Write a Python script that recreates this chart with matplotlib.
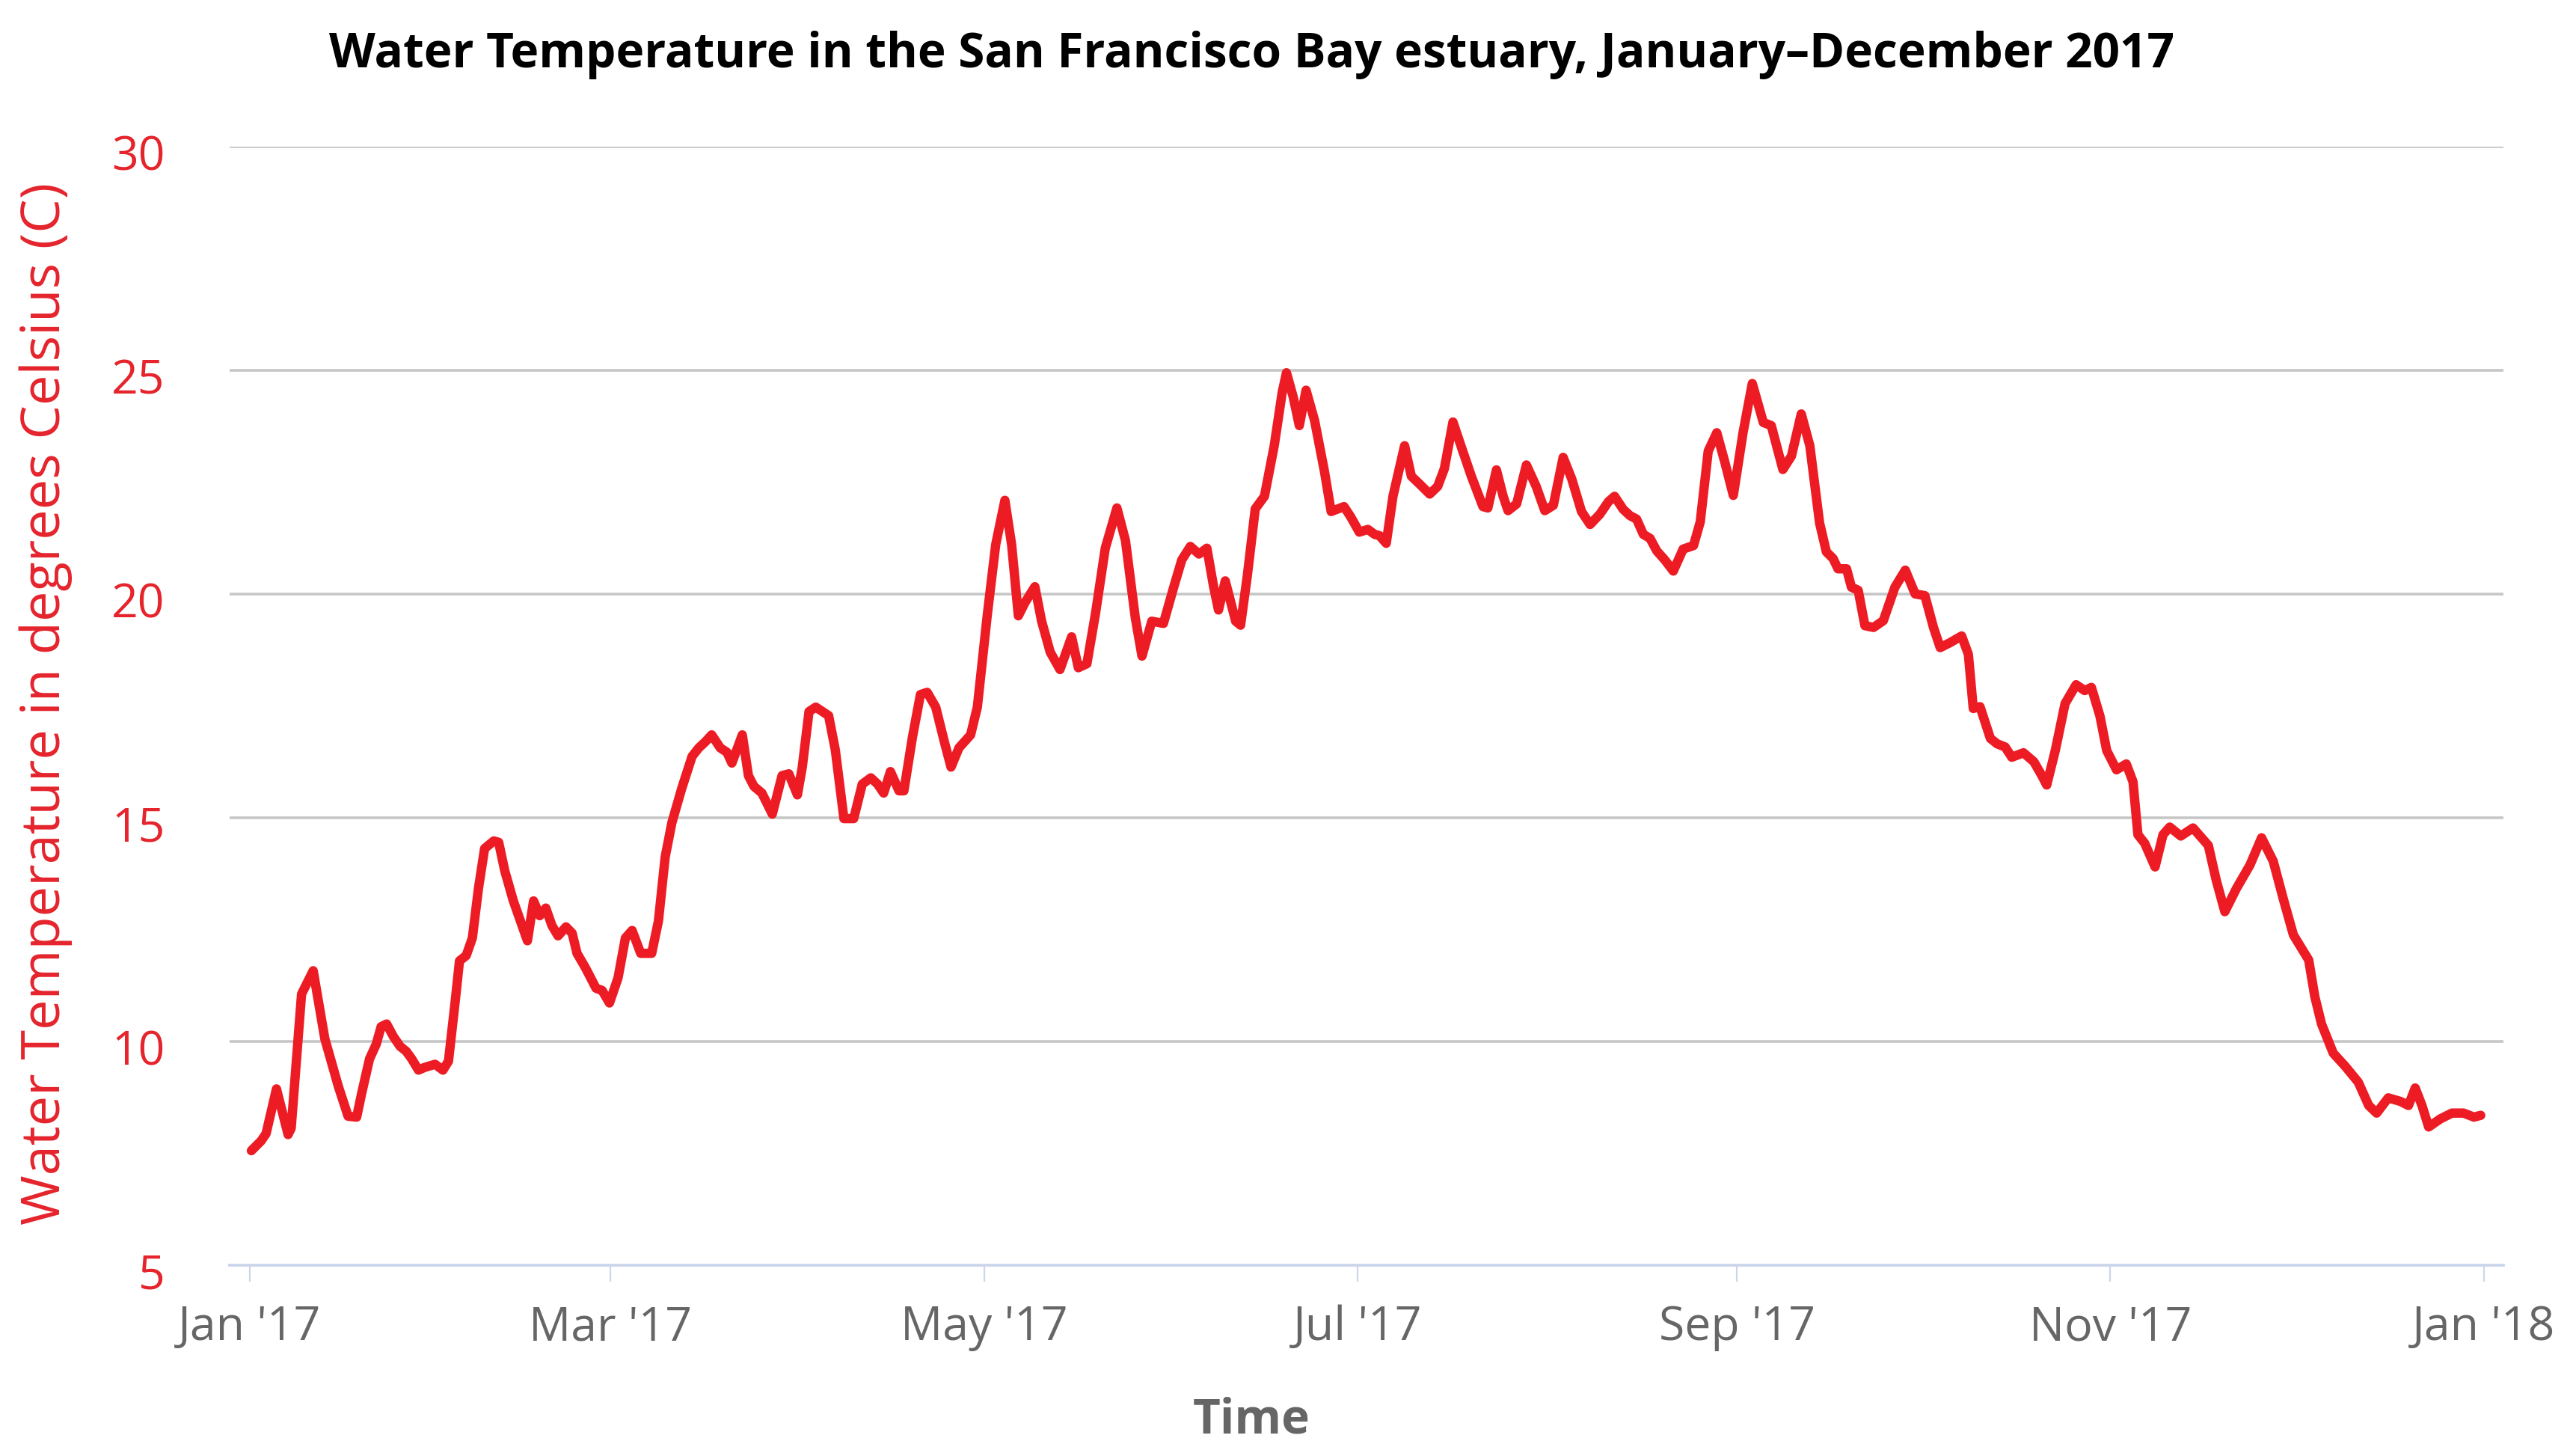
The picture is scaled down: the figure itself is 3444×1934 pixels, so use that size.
import pandas as pd
import matplotlib
matplotlib.use("Agg")
import matplotlib.pyplot as plt
import matplotlib.dates as mdates
from matplotlib.transforms import ScaledTranslation

# days since 1 Jan 2017
day_of_year = [
    0.3, 1.9, 2.7, 4.4, 6.3, 6.8, 8.5, 10.4, 12.3, 14.5, 16.1, 17.5, 18.3, 19.6,
    20.7, 21.5, 22.4, 23.5, 24.6, 25.6, 26.5, 27.6, 28.6, 30.3, 31.6, 32.5, 33.6,
    34.3, 35.4, 36.4, 37.4, 38.4, 39.9, 40.7, 41.7, 43.1, 45.4, 46.4, 47.4, 48.4,
    49.4, 50.4, 51.7, 52.7, 53.5, 54.9, 56.6, 57.6, 58.8, 60.2, 61.4, 62.5, 63.9,
    65.7, 66.8, 67.9, 69.0, 70.6, 72.3, 73.4, 74.5, 75.5, 76.9, 78.0, 78.8, 80.5,
    81.5, 82.4, 83.7, 85.4, 87.0, 88.1, 89.5, 90.3, 91.4, 92.5, 94.6, 95.7, 97.1,
    98.7, 100.1, 101.5, 102.6, 103.6, 104.7, 106.1, 106.9, 108.3, 109.6, 110.7,
    112.1, 113.5, 114.6, 115.9, 117.8, 118.9, 120.5, 121.9, 123.4, 124.5, 125.6,
    126.7, 128.3, 129.4, 130.8, 132.4, 134.3, 135.4, 136.8, 138.2, 139.8, 141.7,
    143.1, 144.7, 145.8, 147.4, 149.3, 151.0, 152.3, 153.7, 155.1, 156.4, 157.5,
    158.3, 159.4, 161.1, 161.9, 163.0, 164.3, 165.8, 167.4, 168.7, 169.4, 170.5,
    171.5, 172.6, 174.0, 175.6, 176.7, 178.8, 179.9, 181.3, 182.7, 183.8, 184.6,
    185.7, 186.8, 188.7, 189.8, 191.1, 192.8, 194.1, 195.2, 196.6, 197.9, 199.6,
    201.5, 202.3, 203.7, 204.8, 205.6, 207.0, 208.6, 210.2, 211.6, 213.0, 214.6,
    216.0, 217.6, 219.0, 220.6, 222.0, 223.0, 224.4, 225.5, 226.6, 227.7, 228.8,
    229.9, 231.2, 232.6, 234.2, 235.9, 237.0, 238.3, 239.7, 241.0, 242.4, 244.0,
    245.5, 247.3, 248.6, 250.5, 251.9, 253.5, 254.9, 256.5, 257.6, 258.7, 259.5,
    260.9, 261.7, 262.8, 263.9, 265.3, 266.9, 268.8, 270.5, 272.1, 273.7, 275.1,
    276.2, 277.8, 279.7, 280.8, 281.6, 282.7, 284.4, 285.5, 286.8, 287.9, 289.8,
    291.5, 292.8, 293.6, 295.0, 296.6, 298.4, 299.8, 300.9, 302.3, 303.4, 305.0,
    306.6, 307.7, 308.5, 309.6, 311.3, 312.6, 313.7, 315.5, 317.5, 320.0, 321.3,
    322.7, 324.6, 326.8, 328.7, 330.6, 332.3, 333.9, 336.4, 337.4, 338.5, 340.4,
    342.4, 344.5, 346.2, 347.5, 349.4, 351.4, 352.7, 353.8, 354.9, 356.0, 357.9,
    359.8, 361.7, 363.4, 364.5,
]

temp_c = [
    7.56, 7.78, 7.94, 8.94, 7.92, 8.06, 11.06, 11.58, 10.06, 9.0, 8.33, 8.31, 8.83, 9.61,
    9.94, 10.33, 10.39, 10.11, 9.89, 9.78, 9.61, 9.36, 9.42, 9.49, 9.36, 9.56, 10.9,
    11.8, 11.92, 12.31, 13.42, 14.31, 14.48, 14.45, 13.81, 13.14, 12.25, 13.14, 12.81, 12.98,
    12.59, 12.36, 12.56, 12.42, 11.97, 11.64, 11.19, 11.14, 10.86, 11.42, 12.31, 12.48, 11.97,
    11.97, 12.69, 14.12, 14.89, 15.65, 16.37, 16.56, 16.70, 16.85, 16.56, 16.46, 16.22, 16.85,
    15.94, 15.70, 15.55, 15.08, 15.94, 15.98, 15.51, 16.13, 17.37, 17.47, 17.28, 16.51, 14.98,
    14.98, 15.75, 15.89, 15.75, 15.55, 16.03, 15.60, 15.60, 16.80, 17.75, 17.80,
    17.47, 16.70, 16.13, 16.56, 16.85, 17.47, 19.5, 21.1, 22.09, 21.10, 19.51,
    19.81, 20.16, 19.39, 18.70, 18.31, 19.04, 18.35, 18.44, 19.56, 21.02, 21.92,
    21.19, 19.47, 18.61, 19.39, 19.34, 20.16, 20.76, 21.06, 20.89, 21.02, 20.16,
    19.64, 20.29, 19.39, 19.30, 20.4, 21.9, 22.18, 23.31, 24.5, 24.94, 24.4,
    23.76, 24.55, 23.87, 22.74, 21.84, 21.95, 21.72, 21.38, 21.44, 21.33, 21.30,
    21.13, 22.18, 23.31, 22.63, 22.46, 22.23, 22.40, 22.80, 23.84, 23.31, 22.63,
    21.95, 21.92, 22.77, 22.18, 21.86, 22.01, 22.88, 22.40, 21.86, 21.98, 23.05,
    22.57, 21.84, 21.55, 21.78, 22.06, 22.18, 21.89, 21.75, 21.67, 21.33, 21.24,
    20.96, 20.76, 20.51, 21.0, 21.08, 21.61, 23.19, 23.6, 22.95, 22.2, 23.61,
    24.7, 23.83, 23.76, 22.78, 23.08, 24.02, 23.31, 21.58, 20.94, 20.79, 20.56,
    20.56, 20.15, 20.08, 19.29, 19.25, 19.40, 20.15, 20.53, 20.0, 19.96, 19.25,
    18.80, 18.91, 19.06, 18.65, 17.44, 17.48, 16.77, 16.65, 16.58, 16.35, 16.45,
    16.25, 15.94, 15.73, 16.5, 17.55, 17.97, 17.84, 17.91, 17.27, 16.5, 16.07,
    16.2, 15.8, 14.62, 14.43, 13.9, 14.62, 14.79, 14.59, 14.77, 14.38, 13.60,
    12.90, 13.42, 13.94, 14.55, 14.03, 13.16, 12.38, 11.82, 11.0, 10.39, 9.74,
    9.44, 9.09, 8.57, 8.40, 8.74, 8.66, 8.57, 8.96, 8.57, 8.09, 8.27,
    8.40, 8.40, 8.31, 8.35,
]

y_ticks = [5, 10, 15, 20, 25, 30]

start = pd.Timestamp("2017-01-01")
dates = start + pd.to_timedelta(day_of_year, unit="D")

red = "#ed1c24"
label_red = "#e5242c"
grey_text = "#666666"

plt.rcParams["font.family"] = ["Open Sans", "DejaVu Sans"]

fig = plt.figure(figsize=(34.44, 19.34), dpi=100)
ax = fig.add_axes([0.0891, 0.1256, 0.8827, 0.7733])

ax.plot(dates, temp_c, color=red, linewidth=9, solid_capstyle="round", solid_joinstyle="round", zorder=3)

ax.set_ylim(5, 30)
ax.set_xlim(start - pd.Timedelta(days=3.27), pd.Timestamp("2018-01-01") + pd.Timedelta(days=3.2))

ax.set_yticks(y_ticks)
for v in y_ticks[1:]:
    ax.axhline(v, color="#c6c6c6", linewidth=2.6, zorder=1)

ax.xaxis.set_major_locator(mdates.MonthLocator(bymonth=[1, 3, 5, 7, 9, 11]))
ax.xaxis.set_major_formatter(mdates.DateFormatter("%b '%y"))

for side in ["top", "right", "left"]:
    ax.spines[side].set_visible(False)
ax.spines["bottom"].set_color("#ccd6eb")
ax.spines["bottom"].set_linewidth(2.8)

ax.tick_params(axis="x", length=16, width=1.6, color="#ccd6eb", pad=22,
               labelsize=45, labelcolor=grey_text)
ax.tick_params(axis="y", length=0, pad=62, labelsize=45, labelcolor=label_red)
# highcharts puts y labels a little below their grid line
for lab in ax.get_yticklabels():
    lab.set_transform(lab.get_transform() + ScaledTranslation(0, -0.08, fig.dpi_scale_trans))

fig.text(0.0178, 0.5135, "Water Temperature in degrees Celsius (C)", rotation=90,
         ha="center", va="center", fontsize=52, color=label_red)
fig.text(0.4858, 0.018, "Time", ha="center", va="center", fontsize=46,
         fontweight="bold", color=grey_text)
fig.text(0.4858, 0.962, "Water Temperature in the San Francisco Bay estuary, January\u2013December 2017",
         ha="center", va="center", fontsize=46, fontweight="bold", color="black")

fig.savefig("out.png", dpi=100, facecolor="white")
